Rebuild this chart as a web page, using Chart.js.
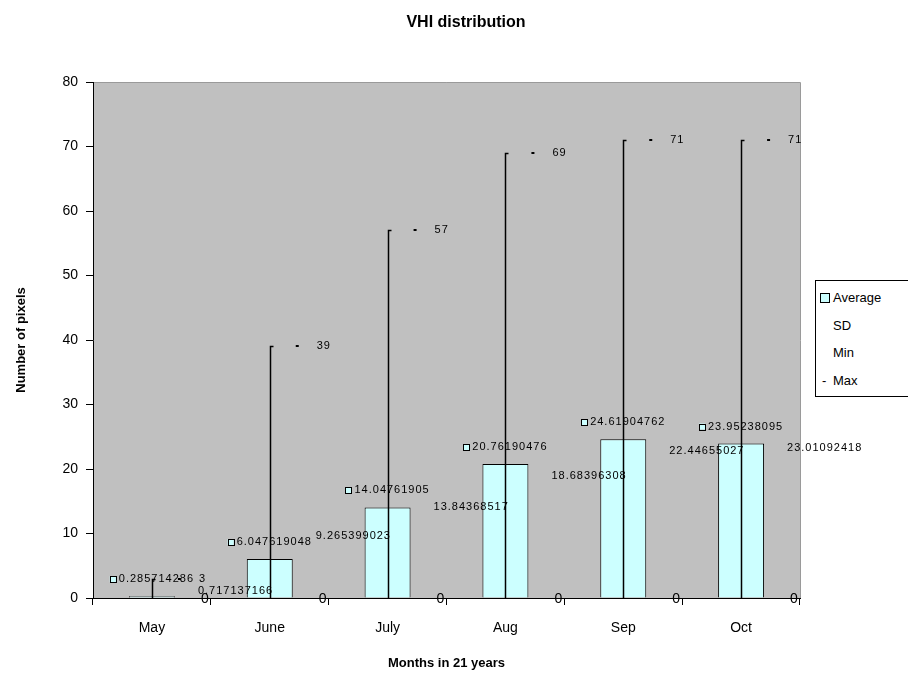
<!DOCTYPE html>
<html>
<head>
<meta charset="utf-8">
<title>VHI distribution</title>
<script src="https://cdn.jsdelivr.net/npm/chart.js@4"></script>
<style>
  body { margin: 0; background: #fff; }
  #wrap { position: relative; width: 908px; height: 677px; }
  #legend {
    position: absolute; left: 815px; top: 280px; width: 100px; height: 117px;
    border: 1px solid #000; background: #fff; box-sizing: border-box;
    font: 13px "Liberation Sans", Arial, sans-serif; color: #000;
  }
  #legend div { position: absolute; left: 17px; }
  #legend .key { position: absolute; left: -13px; top: 3px; width: 8px; height: 8px; border: 1px solid #000; background: #ccffff; }
  #legend .dash { position: absolute; left: -11px; top: 0; }
</style>
</head>
<body>
<div id="wrap">
  <canvas id="canvas" width="908" height="677"></canvas>
  <div id="legend">
    <div style="top:9px"><span class="key"></span>Average</div>
    <div style="top:37px">SD</div>
    <div style="top:64px">Min</div>
    <div style="top:92px"><span class="dash">-</span>Max</div>
  </div>
</div>
<script>
// data
var months = ['May', 'June', 'July', 'Aug', 'Sep', 'Oct'];
var average = [0.285714286, 6.047619048, 14.04761905, 20.76190476, 24.61904762, 23.95238095];
var sd = [0.717137166, 9.265399023, 13.84368517, 18.68396308, 22.44655027, 23.01092418];
var minVals = [0, 0, 0, 0, 0, 0];
var maxVals = [3, 39, 57, 69, 71, 71];

var font = '"Liberation Sans", Arial, sans-serif';

// high-low lines, markers and data labels like the excel chart
const labelPlugin = {
    id: 'labels',
    afterDatasetsDraw(chart) {
        const ctx = chart.ctx;
        const xs = chart.scales.x;
        const ys = chart.scales.y;
        ctx.save();
        for (let i = 0; i < months.length; i++) {
            let x = Math.round(xs.getPixelForValue(i)) + 0.5;
            let yMin = ys.getPixelForValue(minVals[i]);
            let yMax = Math.round(ys.getPixelForValue(maxVals[i])) + 0.5;
            // high-low line
            ctx.strokeStyle = '#000';
            ctx.lineWidth = 1.5;
            ctx.beginPath();
            ctx.moveTo(x, yMin);
            ctx.lineTo(x, yMax);
            ctx.lineTo(x + 3, yMax);
            ctx.stroke();
        }
        ctx.font = '11px ' + font;
        ctx.letterSpacing = '1px';
        ctx.fillStyle = '#000';
        ctx.textBaseline = 'middle';
        for (let i = 0; i < months.length; i++) {
            let x = xs.getPixelForValue(i);
            // average label with legend key
            let txt = String(average[i]);
            let w = ctx.measureText(txt).width;
            let yA = ys.getPixelForValue(average[i]) - 17;
            let left = x - (w + 9) / 2;
            ctx.fillStyle = '#ccffff';
            ctx.fillRect(left, yA - 3, 6, 6);
            ctx.strokeStyle = '#000';
            ctx.lineWidth = 1;
            ctx.strokeRect(Math.round(left) + 0.5, Math.round(yA - 3) + 0.5, 6, 6);
            ctx.fillStyle = '#000';
            ctx.textAlign = 'left';
            ctx.fillText(txt, left + 9, yA);
            // max marker + label
            let yM = ys.getPixelForValue(maxVals[i]);
            ctx.fillRect(x + 26, Math.round(yM) - 1, 3, 2);
            ctx.fillText(String(maxVals[i]), x + 47, yM);
            // sd label
            ctx.fillText(String(sd[i]), x + 46, ys.getPixelForValue(sd[i]) - 2);
            // min label
            ctx.font = '14px ' + font;
            ctx.letterSpacing = '0px';
            ctx.fillText(String(minVals[i]), x + 49, ys.getPixelForValue(minVals[i]) + 1);
            ctx.font = '11px ' + font;
            ctx.letterSpacing = '1px';
        }
        ctx.restore();
    },
    afterDraw(chart) {
        const ctx = chart.ctx;
        ctx.save();
        ctx.font = 'bold 16px ' + font;
        ctx.fillStyle = '#000';
        ctx.textAlign = 'center';
        ctx.textBaseline = 'middle';
        ctx.fillText('VHI distribution', 466, 23);
        ctx.restore();
    }
};

const plotBg = {
    id: 'plotBg',
    beforeDraw(chart) {
        const a = chart.chartArea;
        const ctx = chart.ctx;
        ctx.save();
        ctx.fillStyle = '#c0c0c0';
        ctx.fillRect(a.left, a.top, a.right - a.left, a.bottom - a.top);
        ctx.strokeStyle = '#9a9a9a';
        ctx.lineWidth = 1;
        ctx.beginPath();
        ctx.moveTo(a.left, a.top + 0.5);
        ctx.lineTo(a.right + 0.5, a.top + 0.5);
        ctx.lineTo(a.right + 0.5, a.bottom);
        ctx.stroke();
        ctx.restore();
    }
};

const ctx = document.getElementById('canvas');
const myChart = new Chart(ctx, {
    type: 'bar',
    data: {
        labels: months,
        datasets: [{
            label: 'Average',
            data: average,
            backgroundColor: '#ccffff',
            borderColor: '#000',
            borderWidth: 1,
            barPercentage: 0.78,
            categoryPercentage: 0.5,
            order: 2
        }, {
            type: 'line', label: 'SD', data: sd, showLine: false, pointRadius: 0, order: 1
        }, {
            type: 'line', label: 'Min', data: minVals, showLine: false, pointRadius: 0, order: 1
        }, {
            type: 'line', label: 'Max', data: maxVals, showLine: false, pointRadius: 0, order: 1
        }]
    },
    options: {
        responsive: false,
        animation: false,
        layout: { padding: { top: 82, right: 108, left: 0, bottom: 0 } },
        plugins: {
            legend: { display: false },
            tooltip: { enabled: false }
        },
        scales: {
            x: {
                grid: { display: true, drawOnChartArea: false, drawTicks: true, tickLength: 7, color: '#000', offset: true },
                border: { display: true, color: '#000', width: 1 },
                ticks: { color: '#000', font: { family: font, size: 14 }, padding: 15, maxRotation: 0 },
                title: { display: true, text: 'Months in 21 years', color: '#000', font: { family: font, size: 13, weight: 'bold' }, padding: { top: 0, bottom: 6 } },
                afterFit: function (s) { s.height = 79; }
            },
            y: {
                min: 0, max: 80,
                grid: { display: true, drawOnChartArea: false, drawTicks: true, tickLength: 7, color: '#000' },
                border: { display: true, color: '#000', width: 1 },
                ticks: { stepSize: 10, color: '#000', font: { family: font, size: 14 }, padding: 8 },
                title: { display: true, text: 'Number of pixels', color: '#000', font: { family: font, size: 13, weight: 'bold' }, padding: { top: 14, bottom: 0 } },
                afterFit: function (s) { s.width = 93; }
            }
        }
    },
    plugins: [plotBg, labelPlugin]
});
</script>
</body>
</html>
